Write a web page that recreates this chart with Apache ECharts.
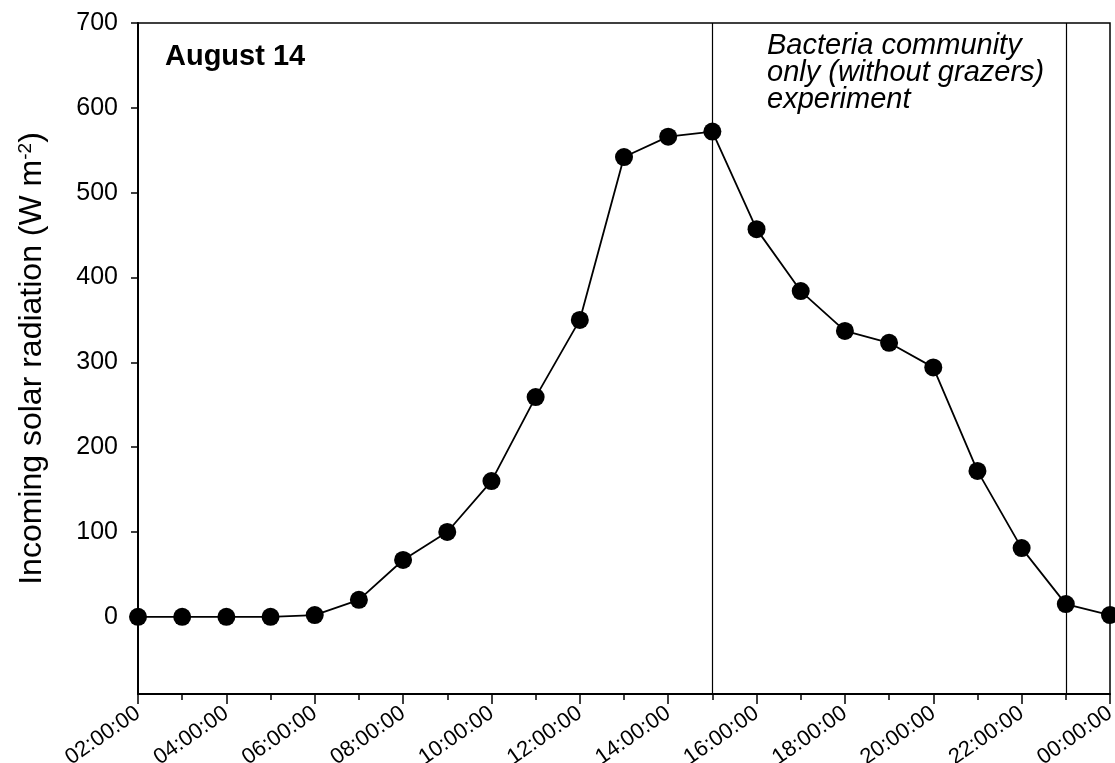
<!DOCTYPE html>
<html>
<head>
<meta charset="utf-8">
<script src="https://cdn.jsdelivr.net/npm/echarts@6/dist/echarts.min.js"></script>
<style>
  html, body { margin: 0; padding: 0; background: #fff; }
  #chart { width: 1115px; height: 763px; }
</style>
</head>
<body>
<div id="chart"></div>
<script>
// Hourly incoming solar radiation, 02:00 through midnight (hour 24 = 00:00 next day)
const hours = [2, 3, 4, 5, 6, 7, 8, 9, 10, 11, 12, 13, 14, 15, 16, 17, 18, 19, 20, 21, 22, 23, 24];
const radiation = [0, 0, 0, 0, 2, 20, 67, 100, 160, 259, 350, 542, 566, 572, 457, 384, 337, 323, 294, 172, 81, 15, 2];

// Axis tick positions and their labels
const tickHours = [2, 4, 6, 8, 10, 12, 14, 16, 18, 20, 22, 24];
const tickLabels = ['02:00:00', '04:00:00', '06:00:00', '08:00:00', '10:00:00', '12:00:00',
                    '14:00:00', '16:00:00', '18:00:00', '20:00:00', '22:00:00', '00:00:00'];
const yTicks = [0, 100, 200, 300, 400, 500, 600, 700];

// Start and end of the experiment window
const experimentHours = [15, 23];

const FONT = 'Liberation Sans, Arial, Helvetica, sans-serif';

const chart = echarts.init(document.getElementById('chart'), null, { renderer: 'canvas' });

chart.setOption({
  animation: false,
  backgroundColor: '#fff',
  grid: {
    left: 138, right: 5, top: 23, bottom: 69,
    outerBoundsMode: 'none',
    containLabel: false,
    show: true, borderColor: '#000', borderWidth: 1.5
  },
  xAxis: {
    type: 'value',
    min: 2, max: 24, interval: 2,
    axisLine: { show: true, onZero: false, lineStyle: { color: '#000', width: 2 } },
    axisTick: { show: true, inside: false, length: 10, lineStyle: { color: '#000', width: 1.5 } },
    minorTick: { show: true, splitNumber: 2, length: 6, lineStyle: { color: '#000', width: 1.5 } },
    splitLine: { show: false },
    axisLabel: {
      rotate: 35, margin: 17,
      color: '#000', fontFamily: FONT, fontSize: 22,
      formatter: v => { const i = tickHours.indexOf(v); return i >= 0 ? tickLabels[i] : ''; }
    }
  },
  yAxis: {
    type: 'value',
    min: -91, max: 700,
    axisLine: { show: true, onZero: false, lineStyle: { color: '#000', width: 2 } },
    axisTick: { show: true, inside: false, length: 7, customValues: yTicks, lineStyle: { color: '#000', width: 1.5 } },
    splitLine: { show: false },
    axisLabel: { customValues: yTicks, margin: 20, color: '#000', fontFamily: FONT, fontSize: 25 },
    name: '{t|Incoming solar radiation (W m}{s|-2}{t|)}',
    nameLocation: 'middle',
    nameGap: 90,
    nameTextStyle: {
      color: '#000',
      rich: {
        t: { fontFamily: FONT, fontSize: 32, color: '#000' },
        s: { fontFamily: FONT, fontSize: 19, color: '#000', verticalAlign: 'top', lineHeight: 19 }
      }
    }
  },
  series: [{
    type: 'line',
    data: hours.map((h, i) => [h, radiation[i]]),
    symbol: 'circle',
    symbolSize: 18,
    itemStyle: { color: '#000' },
    lineStyle: { color: '#000', width: 1.8 },
    clip: false,
    z: 3,
    markLine: {
      silent: true,
      symbol: 'none',
      label: { show: false },
      lineStyle: { color: '#000', width: 1.2, type: 'solid' },
      data: experimentHours.map(h => ({ xAxis: h }))
    }
  }],
  graphic: [
    {
      type: 'text', left: 165, top: 42,
      style: { text: 'August 14', font: 'bold 29px ' + FONT, fill: '#000' }
    },
    {
      type: 'text', left: 767, top: 31,
      style: {
        text: 'Bacteria community\nonly (without grazers)\nexperiment',
        font: 'italic 29px ' + FONT, lineHeight: 27, fill: '#000'
      }
    }
  ]
});
</script>
</body>
</html>
